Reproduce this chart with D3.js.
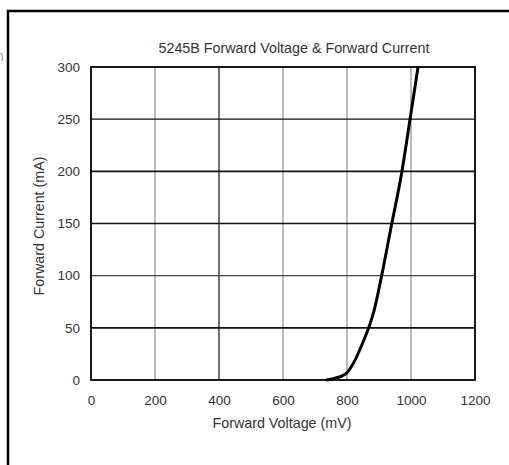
<!DOCTYPE html>
<html>
<head>
<meta charset="utf-8">
<script src="https://cdn.jsdelivr.net/npm/d3@7"></script>
<style>
body { margin: 0; background: #fff; }
svg { display: block; font-family: "Liberation Sans", Arial, sans-serif; }
</style>
</head>
<body>
<div class="chart"></div>
<script>
var voltage = [735, 760, 785, 800, 810, 825, 840, 855, 870, 885, 905, 940, 970, 997, 1022];
var current = [0, 1.5, 4, 7, 11, 19, 29, 40, 52, 67, 95, 150, 197, 250, 300];
var xTicks = [0, 200, 400, 600, 800, 1000, 1200];
var yTicks = [0, 50, 100, 150, 200, 250, 300];
var title = "5245B Forward Voltage & Forward Current";
var xTitle = "Forward Voltage (mV)";
var yTitle = "Forward Current (mA)";

var W = 509, H = 465;
var svg = d3.select(".chart").append("svg")
	.attr("width", W)
	.attr("height", H);

var x = d3.scaleLinear().domain([0, 1200]).range([91, 475]);
var y = d3.scaleLinear().domain([0, 300]).range([380, 67]);

// page frame (left + top rule of the scanned sheet)
svg.append("path")
	.attr("d", "M8,465V11H509")
	.attr("fill", "none")
	.attr("stroke", "#000")
	.attr("stroke-width", 2.5);

// cut-off letter at the left edge
svg.append("text")
	.attr("x", -4).attr("y", 61)
	.attr("font-size", 14)
	.attr("fill", "#999")
	.text("n");

// grid
svg.append("g").selectAll("line")
	.data(xTicks.slice(1, -1))
	.enter().append("line")
	.attr("x1", function(d) { return x(d); })
	.attr("x2", function(d) { return x(d); })
	.attr("y1", y(0)).attr("y2", y(300))
	.attr("stroke", function(d) { return d == 400 ? "#111" : "#8c8c8c"; })
	.attr("stroke-width", 1.2);

svg.append("g").selectAll("line")
	.data(yTicks.slice(1, -1))
	.enter().append("line")
	.attr("x1", x(0)).attr("x2", x(1200))
	.attr("y1", function(d) { return y(d); })
	.attr("y2", function(d) { return y(d); })
	.attr("stroke", function(d) { return d == 100 ? "#444" : "#111"; })
	.attr("stroke-width", function(d) { return d == 200 || d == 50 ? 1.8 : 1.3; });

// plot border
svg.append("rect")
	.attr("x", x(0)).attr("y", y(300))
	.attr("width", x(1200) - x(0))
	.attr("height", y(0) - y(300))
	.attr("fill", "none")
	.attr("stroke", "#000")
	.attr("stroke-width", 1.8);

// axes (labels only)
var xAxis = svg.append("g")
	.attr("transform", "translate(0," + y(0) + ")")
	.call(d3.axisBottom(x).tickValues(xTicks).tickFormat(d3.format("d")).tickSize(0).tickPadding(15));
var yAxis = svg.append("g")
	.attr("transform", "translate(" + x(0) + ",0)")
	.call(d3.axisLeft(y).tickValues(yTicks).tickFormat(d3.format("d")).tickSize(0).tickPadding(11));
[xAxis, yAxis].forEach(function(a) {
	a.select(".domain").remove();
	a.selectAll("text")
		.attr("font-family", "Liberation Sans, Arial, sans-serif")
		.attr("font-size", 13.5)
		.attr("fill", "#333");
});

// curve
var pts = voltage.map(function(v, i) { return [v, current[i]]; });
svg.append("path")
	.datum(pts)
	.attr("fill", "none")
	.attr("stroke", "#000")
	.attr("stroke-width", 3)
	.attr("stroke-linejoin", "round")
	.attr("d", d3.line()
		.x(function(d) { return x(d[0]); })
		.y(function(d) { return y(d[1]); })
		.curve(d3.curveMonotoneX));

// titles
svg.append("text")
	.attr("x", 294).attr("y", 53)
	.attr("text-anchor", "middle")
	.attr("font-size", 14.3)
	.attr("fill", "#333")
	.text(title);

svg.append("text")
	.attr("x", 282).attr("y", 428)
	.attr("text-anchor", "middle")
	.attr("font-size", 14.3)
	.attr("fill", "#333")
	.text(xTitle);

svg.append("text")
	.attr("transform", "translate(44,226)rotate(-90)")
	.attr("text-anchor", "middle")
	.attr("font-size", 14.3)
	.attr("fill", "#333")
	.text(yTitle);
</script>
</body>
</html>
